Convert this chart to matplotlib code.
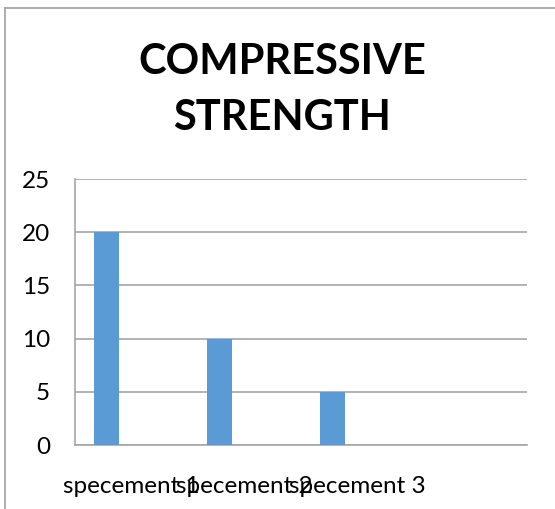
import matplotlib
matplotlib.use("Agg")
import matplotlib.pyplot as plt
from matplotlib.lines import Line2D

categories = ["specement 1", "specement 2", "specement 3", ""]
values = [20, 10, 5, 0]
yticks = [0, 5, 10, 15, 20, 25]
title_lines = ["COMPRESSIVE", "STRENGTH"]

W, H = 555, 509
fig = plt.figure(figsize=(W / 100, H / 100), dpi=100)
fig.patch.set_facecolor("white")

ax = fig.add_axes([75 / W, 1 - 445 / H, 452 / W, (445 - 179) / H])

# clustered layout: 3 series slots per category, gap width 150%;
# only the first series carries data
n_series = 3
bar_w = 1.0 / (n_series + 1.5)
x = list(range(len(categories)))
bar_x = [i - bar_w for i in x]
ax.bar(bar_x, values, width=bar_w, color="#5B9BD5", zorder=3)

ax.set_xlim(-0.5, len(categories) - 0.5)
ax.set_ylim(0, 25)
ax.set_yticks(yticks)
ax.set_yticklabels([str(v) for v in yticks])
ax.set_xticks(x)
ax.set_xticklabels(categories)

grid_c = "#A6A6A6"
ax.yaxis.grid(True, color=grid_c, linewidth=1.2, zorder=0)
for s in ["top", "right"]:
    ax.spines[s].set_visible(False)
for s in ["left", "bottom"]:
    ax.spines[s].set_color(grid_c)
    ax.spines[s].set_linewidth(1.2)
ax.tick_params(axis="both", length=0, labelsize=17.5, labelcolor="black")
ax.tick_params(axis="y", pad=18)
ax.tick_params(axis="x", pad=22)
for lab in ax.get_xticklabels() + ax.get_yticklabels():
    lab.set_family("Lato")

for line, base_y in zip(title_lines, [74, 130]):
    fig.text(282 / W, 1 - base_y / H, line, ha="center", va="baseline",
             fontsize=30, fontweight="bold", family="Lato")

# outer chart frame (left and top edges)
fig.add_artist(Line2D([5 / W, 5 / W], [0, 1 - 8 / H], transform=fig.transFigure,
                      color="#A0A0A0", linewidth=1.2))
fig.add_artist(Line2D([5 / W, 1], [1 - 8 / H, 1 - 8 / H], transform=fig.transFigure,
                      color="#A0A0A0", linewidth=1.2))

fig.savefig("out.png", dpi=100)
